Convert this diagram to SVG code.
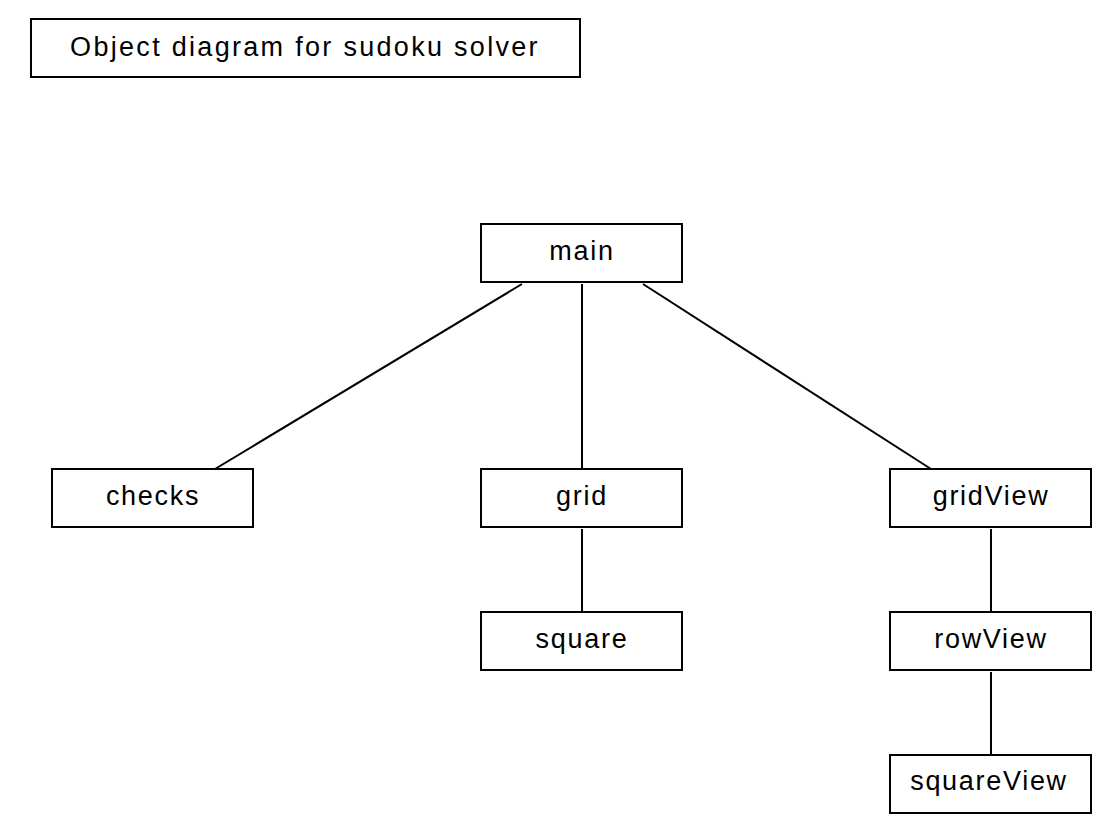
<svg xmlns="http://www.w3.org/2000/svg" width="1112" height="835" viewBox="0 0 1112 835">
<style>
rect{fill:#fff;stroke:#000;stroke-width:2}
text{font-family:"Liberation Sans",Arial,sans-serif;font-size:27px;letter-spacing:1.7px;fill:#000;text-anchor:middle}
#title text{letter-spacing:2.3px}
#connectors line{stroke:#000;stroke-width:2}
</style>
<rect width="1112" height="835" style="stroke:none"/>
<g id="title"><rect x="31" y="19" width="549" height="58"/><text x="305" y="56">Object diagram for sudoku solver</text></g>
<g id="connectors">
<line x1="522" y1="284" x2="215" y2="469"/>
<line x1="582" y1="284" x2="582" y2="469"/>
<line x1="643" y1="284" x2="931" y2="469"/>
<line x1="582" y1="529" x2="582" y2="612"/>
<line x1="991" y1="529" x2="991" y2="612"/>
<line x1="991" y1="672" x2="991" y2="755"/>
</g>
<g id="main"><rect x="481" y="224" width="201" height="58"/><text x="582" y="260">main</text></g>
<g id="checks"><rect x="52" y="469" width="201" height="58"/><text x="153" y="505">checks</text></g>
<g id="grid"><rect x="481" y="469" width="201" height="58"/><text x="582" y="505">grid</text></g>
<g id="gridView"><rect x="890" y="469" width="201" height="58"/><text x="991" y="505">gridView</text></g>
<g id="square"><rect x="481" y="612" width="201" height="58"/><text x="582" y="648">square</text></g>
<g id="rowView"><rect x="890" y="612" width="201" height="58"/><text x="991" y="648">rowView</text></g>
<g id="squareView"><rect x="890" y="755" width="201" height="58"/><text x="989" y="790">squareView</text></g>
</svg>
